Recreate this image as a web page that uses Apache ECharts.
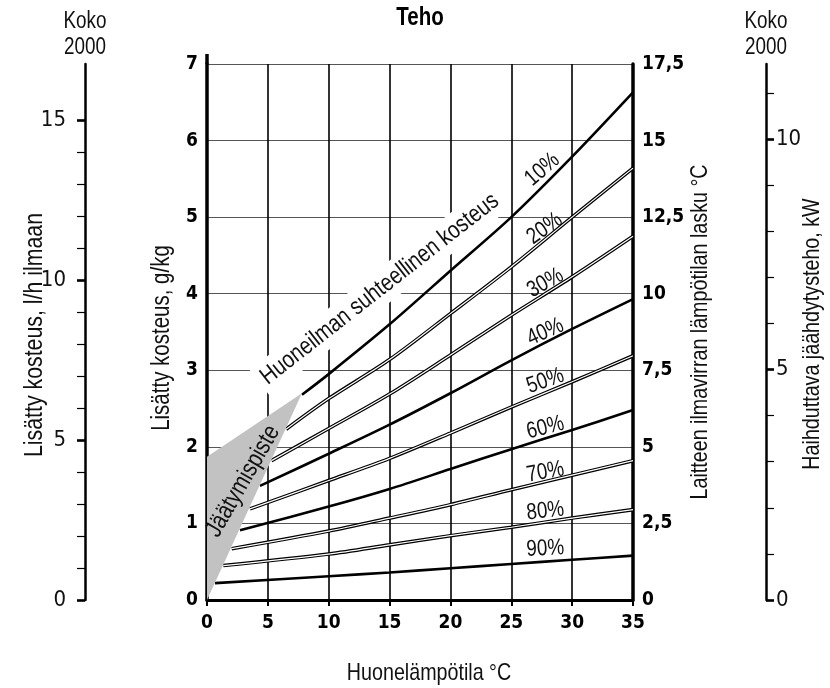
<!DOCTYPE html>
<html><head><meta charset="utf-8">
<script src="https://cdn.jsdelivr.net/npm/echarts@6/dist/echarts.min.js"></script>
<style>html,body{margin:0;padding:0;background:#fff}#c{width:830px;height:688px}</style>
</head><body><div id="c"></div>
<script>
// ---------------- DATA ----------------
const rhNames  = ['10%','20%','30%','40%','50%','60%','70%','80%','90%'];
const rhStyle  = ['thick','double','double','thick','double','thick','double','double','thick'];
// first point of each curve (on the freezing-point boundary)
const startT   = [7.8, 6.5, 5.3, 4.35, 3.53, 2.71, 2.03, 1.34, 0.66];
const startW   = [2.68, 2.23, 1.82, 1.49, 1.19, 0.91, 0.67, 0.45, 0.22];
// remaining points at these room temperatures
const tempGrid = [10, 15, 20, 25, 30, 35];
const rh10 = [2.95, 3.60, 4.30, 5.00, 5.79, 6.63];
const rh20 = [2.63, 3.14, 3.74, 4.35, 5.00, 5.64];
const rh30 = [2.24, 2.69, 3.20, 3.72, 4.22, 4.75];
const rh40 = [1.91, 2.29, 2.70, 3.13, 3.54, 3.93];
const rh50 = [1.56, 1.85, 2.18, 2.52, 2.85, 3.19];
const rh60 = [1.22, 1.45, 1.71, 1.97, 2.22, 2.48];
const rh70 = [0.90, 1.07, 1.245, 1.44, 1.63, 1.82];
const rh80 = [0.60, 0.72, 0.84, 0.95, 1.07, 1.18];
const rh90 = [0.31, 0.36, 0.415, 0.47, 0.525, 0.58];
const rhValues = [rh10, rh20, rh30, rh40, rh50, rh60, rh70, rh80, rh90];
// freezing point region (Jäätymispiste)
const freezeT = [0, 0, 7.8];
const freezeW = [0, 1.87, 2.70];
// tick labels
const xTicks = [0, 5, 10, 15, 20, 25, 30, 35];
const wTicks = [0, 1, 2, 3, 4, 5, 6, 7];
const dtTickLabels = ['0', '2,5', '5', '7,5', '10', '12,5', '15', '17,5'];
const lhLabels = [0, 5, 10, 15];
const lhMinorTicks = [0,1,2,3,4,5,6,7,8,9,10,11,12,13,14,15];
const lhMax = 16.75;
const kwLabels = [0, 5, 10];
const kwMinorTicks = [0,1,2,3,4,5,6,7,8,9,10,11];
const kwMax = 11.63;

// ---------------- LAYOUT ----------------
const AXFONT = "'DejaVu Sans Condensed','DejaVu Sans',sans-serif";
const TXFONT = "'Liberation Sans',Arial,sans-serif";
const NARROW = 0.82;
const G = {left: 207, right: 197, top: 64, bottom: 88};
const pctLabelPos = [[27.55,5.62],[27.75,4.85],[27.8,4.14],[27.8,3.50],[27.8,2.86],[27.8,2.25],[27.8,1.67],[27.8,1.16],[27.8,0.67]];
const pctLabelRot = [41, 35, 29, 24, 19, 14, 10, 6, 3];

const chart = echarts.init(document.getElementById('c'), null, {renderer: 'canvas'});

const series = [];
rhNames.forEach((name, i) => {
  const pts = [[startT[i], startW[i]]].concat(tempGrid.map((t, j) => [t, rhValues[i][j]]));
  if (rhStyle[i] === 'thick') {
    series.push({type: 'line', name, data: pts, smooth: 0.3, showSymbol: false, silent: true,
      lineStyle: {color: '#000', width: 2.6}, z: 3});
  } else {
    series.push({type: 'line', name, data: pts, smooth: 0.3, showSymbol: false, silent: true,
      lineStyle: {color: '#000', width: 3.6}, z: 3});
    series.push({type: 'line', name: name + '_in', data: pts, smooth: 0.3, showSymbol: false, silent: true,
      lineStyle: {color: '#fff', width: 1.2}, z: 4});
  }
});
series.push({
  type: 'custom', silent: true, z: 6,
  data: freezeT.map((t, i) => [t, freezeW[i]]),
  renderItem: (params, api) => {
    if (params.dataIndex !== 0) return null;
    const points = freezeT.map((t, i) => api.coord([t, freezeW[i]]));
    return {type: 'polygon', shape: {points}, style: {fill: '#c2c2c2', stroke: null}};
  }
});

const boldLabel = {fontFamily: AXFONT, fontWeight: 'bold', fontSize: 19, color: '#000'};
const normLabel = {fontFamily: AXFONT, fontSize: 22, color: '#111'};

chart.setOption({
  animation: false,
  backgroundColor: '#fff',
  grid: {left: G.left, right: G.right, top: G.top, bottom: G.bottom},
  xAxis: [{
    type: 'value', min: xTicks[0], max: xTicks[xTicks.length - 1], interval: xTicks[1] - xTicks[0],
    axisLine: {lineStyle: {color: '#000', width: 3}},
    axisTick: {length: 6, lineStyle: {color: '#000', width: 2}},
    axisLabel: Object.assign({margin: 14}, boldLabel),
    splitLine: {show: true, lineStyle: {color: '#000', width: 1.6}}
  }],
  yAxis: [
    { type: 'value', position: 'left', min: wTicks[0], max: wTicks[wTicks.length - 1], interval: 1,
      axisLine: {show: true, lineStyle: {color: '#000', width: 3.5}},
      axisTick: {show: false},
      axisLabel: Object.assign({margin: 9}, boldLabel),
      splitLine: {show: true, lineStyle: {color: '#555', width: 1}} },
    { type: 'value', position: 'right', min: 0, max: 17.5, interval: 2.5,
      axisLine: {show: true, lineStyle: {color: '#000', width: 3.5}},
      axisTick: {show: false},
      axisLabel: Object.assign({margin: 9, formatter: (v) => dtTickLabels[Math.round(v / 2.5)]}, boldLabel),
      splitLine: {show: false} },
    { type: 'value', position: 'left', offset: 122, min: 0, max: lhMax,
      axisLine: {show: true, lineStyle: {color: '#000', width: 2.5}},
      axisTick: {show: true, length: 8, customValues: lhMinorTicks, lineStyle: {color: '#000', width: 1.2}},
      axisLabel: Object.assign({margin: 19, customValues: lhLabels}, normLabel),
      splitLine: {show: false} },
    { type: 'value', position: 'left', offset: 122, min: 0, max: lhMax,
      axisLine: {show: false},
      axisTick: {show: true, length: 8, customValues: lhLabels, lineStyle: {color: '#000', width: 2.6}},
      axisLabel: {show: false}, splitLine: {show: false} },
    { type: 'value', position: 'right', offset: 133, min: 0, max: kwMax,
      axisLine: {show: true, lineStyle: {color: '#000', width: 2.5}},
      axisTick: {show: true, length: 8, customValues: kwMinorTicks, lineStyle: {color: '#000', width: 1.2}},
      axisLabel: Object.assign({margin: 10, customValues: kwLabels}, normLabel),
      splitLine: {show: false} },
    { type: 'value', position: 'right', offset: 133, min: 0, max: kwMax,
      axisLine: {show: false},
      axisTick: {show: true, length: 8, customValues: kwLabels, lineStyle: {color: '#000', width: 2.6}},
      axisLabel: {show: false}, splitLine: {show: false} }
  ],
  series
});

// ---------------- ANNOTATIONS ----------------
const toPx = (p) => chart.convertToPixel({xAxisIndex: 0, yAxisIndex: 0}, p);
const deg = Math.PI / 180;
function txt(x, y, text, opts) {
  opts = opts || {};
  return {
    type: 'text', x, y, rotation: (opts.rot || 0) * deg, scaleX: NARROW, scaleY: 1,
    z: opts.z || 10, silent: true,
    style: Object.assign({
      text, x: 0, y: 0, align: 'center', verticalAlign: 'middle',
      textAlign: 'center', textVerticalAlign: 'middle',
      fontFamily: TXFONT, fontSize: opts.size || 24, fontWeight: opts.weight || 'normal', fill: '#111'
    }, opts.style || {})
  };
}
const g = [];
g.push(txt(420, 18, 'Teho', {size: 25, weight: 'bold', style: {fill: '#000'}}));
g.push(txt(85, 22, 'Koko', {size: 23}));
g.push(txt(85, 48, '2000', {size: 23}));
g.push(txt(766, 22, 'Koko', {size: 23}));
g.push(txt(766, 48, '2000', {size: 23}));
g.push(txt(35, 335, 'Lisätty kosteus, l/h ilmaan', {rot: 90, size: 26}));
g.push(txt(162, 338, 'Lisätty kosteus, g/kg', {rot: 90, size: 25}));
g.push(txt(700, 332, 'Laitteen ilmavirran lämpötilan lasku °C', {rot: 90}));
g.push(txt(812, 334, 'Haihduttava jäähdytysteho, kW', {rot: 90}));
g.push(txt(429, 673, 'Huonelämpötila °C'));
// main y axis extension above the top tick
g.push({type: 'line', z: 10, silent: true, shape: {x1: G.left, y1: G.top - 10, x2: G.left, y2: G.top},
  style: {stroke: '#000', lineWidth: 3.5}});

const hp = toPx([14.2, 4.06]);
g.push(txt(hp[0], hp[1], 'Huoneilman suhteellinen kosteus', {rot: 38, z: 1, size: 24.5,
  style: {backgroundColor: '#fff', padding: [4, 6]}}));
const jp = toPx([2.96, 1.55]);
g.push(txt(jp[0], jp[1], 'Jäätymispiste', {rot: 60, z: 10, size: 25}));
rhNames.forEach((n, i) => {
  const p = toPx(pctLabelPos[i]);
  g.push(txt(p[0], p[1], n, {rot: pctLabelRot[i], size: 23, z: 10}));
});
chart.setOption({graphic: g});
</script></body></html>
